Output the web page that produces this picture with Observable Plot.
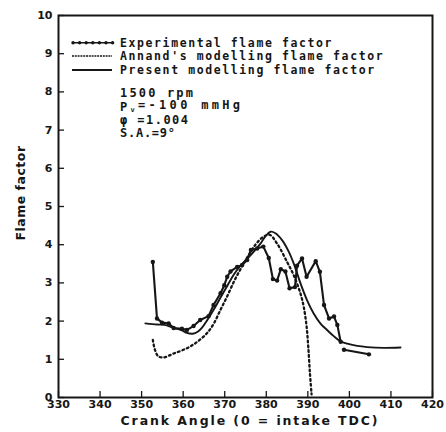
<!DOCTYPE html>
<html><head><meta charset="utf-8">
<script src="https://cdn.jsdelivr.net/npm/d3@7"></script>
<script src="https://cdn.jsdelivr.net/npm/@observablehq/plot@0.6"></script>
<style>body{margin:0;background:#fff} svg{display:block}</style>
</head><body><div id="chart"></div>
<script>
// Axis ticks
const xTicks = [330, 340, 350, 360, 370, 380, 390, 400, 410, 420];
const yTicks = [0, 1, 2, 3, 4, 5, 6, 7, 8, 9, 10];

// Experimental flame factor (null breaks the trace before the last short run)
const expAngle = [352.7, 353.7, 354.9, 356.5, 357.7, 359.7, 360.9, 362.5, 364.1, 366.1, 367.3, 369.0, 369.9, 370.6, 371.4, 373.0, 374.2, 375.4, 376.3, 377.8, 379.3, 380.6, 381.6, 382.6, 383.5, 384.6, 385.6, 386.9, 387.4, 388.6, 389.7, 391.9, 392.9, 393.9, 395.1, 396.3, 397.1, 397.9, 398.3, 398.7, 404.7];
const expFactor = [3.55, 2.07, 1.96, 1.94, 1.82, 1.80, 1.77, 1.87, 2.03, 2.13, 2.42, 2.73, 2.94, 3.16, 3.30, 3.42, 3.47, 3.60, 3.86, 3.90, 3.95, 3.65, 3.10, 3.06, 3.36, 3.30, 2.86, 2.89, 3.45, 3.64, 3.16, 3.57, 3.29, 2.42, 2.07, 2.12, 1.90, 1.46, null, 1.25, 1.13];

// Annand's modelling flame factor
const annandAngle = [352.7, 353.2, 354.0, 355.3, 357.7, 360.9, 363.3, 365.7, 367.3, 369.0, 370.6, 372.2, 373.8, 375.6, 377.4, 379.2, 380.8, 382.6, 385.0, 386.6, 388.2, 389.0, 389.7, 390.1, 390.5, 390.9];
const annandFactor = [1.51, 1.25, 1.08, 1.05, 1.15, 1.29, 1.45, 1.68, 1.92, 2.30, 2.65, 3.03, 3.36, 3.70, 4.00, 4.20, 4.26, 4.03, 3.55, 3.20, 2.73, 2.38, 1.86, 1.33, 0.64, 0.08];

// Present modelling flame factor
const presentAngle = [350.9, 353.7, 355.5, 357.7, 359.7, 360.9, 362.3, 363.5, 364.5, 365.7, 367.3, 369.0, 370.6, 372.2, 373.8, 375.4, 377.0, 378.6, 379.8, 381.0, 382.2, 383.8, 385.4, 386.6, 388.2, 389.8, 391.4, 393.1, 394.7, 396.3, 397.9, 399.5, 401.9, 404.3, 408.3, 412.3];
const presentFactor = [1.94, 1.91, 1.90, 1.82, 1.76, 1.69, 1.67, 1.72, 1.82, 2.01, 2.29, 2.62, 2.92, 3.22, 3.45, 3.63, 3.82, 4.03, 4.22, 4.34, 4.30, 4.12, 3.82, 3.51, 3.00, 2.55, 2.20, 1.93, 1.76, 1.60, 1.47, 1.41, 1.35, 1.32, 1.30, 1.31];

// Legend entries and run conditions
const seriesNames = ["Experimental flame factor", "Annand's modelling flame factor", "Present modelling flame factor"];
const conditions = ["1500 rpm", "P|v|=-100 mmHg", "φ =1.004", "S.A.=9°"];

const exp = expAngle.map((a, i) => ({angle: a, factor: expFactor[i]}));
const annand = annandAngle.map((a, i) => ({angle: a, factor: annandFactor[i]}));
const present = presentAngle.map((a, i) => ({angle: a, factor: presentFactor[i]}));

const ink = "#161616";
const W = 446, H = 432, mL = 58, mR = 14, mT = 15, mB = 35;
const frameW = W - mL - mR, frameH = H - mT - mB;

const chart = Plot.plot({
  width: W,
  height: H,
  marginLeft: mL,
  marginRight: mR,
  marginTop: mT,
  marginBottom: mB,
  style: {fontFamily: "DejaVu Sans", fontSize: "11px", fontWeight: "bold", color: ink, background: "#fff"},
  x: {domain: [330, 420]},
  y: {domain: [0, 10]},
  marks: [
    // tick labels
    Plot.axisX({ticks: xTicks, tickSize: 0, tickPadding: 3, label: null, tickFormat: d => String(d)}),
    Plot.axisY({ticks: yTicks, tickSize: 0, tickPadding: 6, label: null, tickFormat: d => String(d)}),
    // short ticks pointing into the frame
    Plot.tickX(xTicks, {x: d => d, insetTop: frameH - 6, stroke: ink, strokeWidth: 1.3}),
    Plot.tickY(yTicks, {y: d => d, insetRight: frameW - 6, stroke: ink, strokeWidth: 1.3}),
    Plot.frame({stroke: ink, strokeWidth: 2}),
    Plot.line(annand, {x: "angle", y: "factor", curve: "catmull-rom", stroke: ink, strokeWidth: 2.3, strokeDasharray: "1.8,3", strokeLinecap: "round"}),
    Plot.line(present, {x: "angle", y: "factor", curve: "catmull-rom", stroke: ink, strokeWidth: 1.9}),
    Plot.line(exp, {x: "angle", y: "factor", stroke: ink, strokeWidth: 2.1}),
    Plot.dot(exp.filter(d => d.factor != null), {x: "angle", y: "factor", r: 2.2, fill: ink})
  ]
});

const svg = d3.select(chart);

// Legend
const leg = svg.append("g").attr("text-anchor", "start");
const rowY = [42.7, 56, 70];
const styles = [
  {dash: null, width: 1.4, dots: true},
  {dash: "2,0.8", width: 1.6, dots: false},
  {dash: null, width: 1.8, dots: false}
];
seriesNames.forEach((name, i) => {
  const y = rowY[i];
  const ln = leg.append("line").attr("x1", 72).attr("x2", 112).attr("y1", y).attr("y2", y)
    .attr("stroke", ink).attr("stroke-width", styles[i].width);
  if (styles[i].dash) ln.attr("stroke-dasharray", styles[i].dash);
  if (styles[i].dots) {
    d3.range(73, 113, 6.6).forEach(x => leg.append("circle").attr("cx", x).attr("cy", y).attr("r", 1.7).attr("fill", ink));
  }
  leg.append("text").attr("x", 120).attr("y", y).attr("dy", "0.35em")
    .attr("text-anchor", "start")
    .attr("font-family", "DejaVu Sans Mono").attr("font-weight", "bold")
    .attr("font-size", 11.5).attr("letter-spacing", 1.6).attr("fill", ink)
    .text(name);
});

// Run conditions
const condWidths = [73, 120, 68, 55];
conditions.forEach((c, i) => {
  const t = svg.append("text").attr("x", 120).attr("y", 93 + i * 13.3).attr("dy", "0.35em")
    .attr("text-anchor", "start")
    .attr("font-family", "DejaVu Sans Mono").attr("font-weight", "bold")
    .attr("font-size", 12).attr("fill", ink)
    .attr("textLength", condWidths[i]).attr("lengthAdjust", "spacing");
  const parts = c.split("|");
  if (parts.length === 3) {
    t.append("tspan").text(parts[0]);
    t.append("tspan").attr("font-size", 7).attr("dy", "0.25em").text(parts[1]);
    t.append("tspan").attr("dy", "-0.25em").text(parts[2]);
  } else {
    t.text(c);
  }
});

// Axis titles
svg.append("text").attr("transform", "translate(21,193) rotate(-90)")
  .attr("text-anchor", "middle").attr("dy", "0.35em")
  .attr("font-family", "DejaVu Sans").attr("font-weight", "bold")
  .attr("font-size", 12.5).attr("letter-spacing", 0.5).attr("fill", ink)
  .text("Flame factor");
svg.append("text").attr("x", 250).attr("y", 421)
  .attr("text-anchor", "middle").attr("dy", "0.35em")
  .attr("font-family", "DejaVu Sans").attr("font-weight", "bold")
  .attr("font-size", 12.5).attr("letter-spacing", 1.9).attr("fill", ink)
  .text("Crank Angle (0 = intake TDC)");

document.getElementById("chart").append(chart);
</script>
</body></html>
